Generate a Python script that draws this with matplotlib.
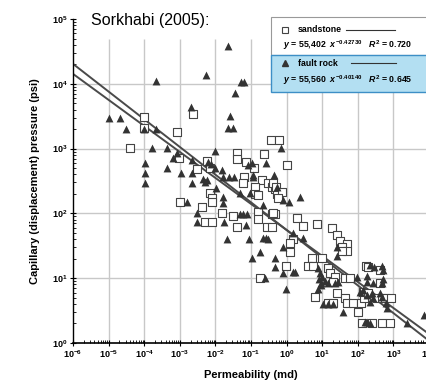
import matplotlib.pyplot as plt
import numpy as np
from matplotlib.patches import Rectangle
from matplotlib.lines import Line2D
from matplotlib.ticker import LogLocator, FuncFormatter, NullFormatter

plt.rcParams['font.family'] = ['Liberation Sans', 'DejaVu Sans']
plt.rcParams['mathtext.fontset'] = 'custom'
plt.rcParams['mathtext.rm'] = 'Liberation Sans:bold'
plt.rcParams['mathtext.it'] = 'Liberation Sans:italic:bold'
plt.rcParams['mathtext.bf'] = 'Liberation Sans:bold'

# valores (log10 de permeabilidad en md y de presion en psi)
sand_log_perm = [-4.40, -4.01, -4.01, -3.08, -2.63, -3.02, -2.24, -2.52, -2.15, -1.39,
                 -1.39, -1.14, -0.92, -0.63, -0.44, -0.21, -1.20, -1.22, -0.69, -0.52,
                 -0.41, -0.89, -0.89, -0.80, -2.15, -2.10, -0.33, -0.27, -2.99, -2.38,
                 -2.10, -1.81, -1.51, -2.29, -2.10, -1.39, -0.80, -0.80, -0.55, -0.41,
                 -0.41, -0.33, -0.75, 0.01, -0.38, -0.30, -0.13, -0.24, -0.38, 0.29,
                 0.46, 0.85, 1.28, 1.42, 1.50, 1.70, 0.18, 0.10, 0.10, -0.02,
                 0.71, 0.60, 0.74, 0.99, 1.16, 1.22, 1.36, 1.30, 1.56, 1.70,
                 1.56, 2.23, 2.29, 2.62, 2.62, 1.64, 1.78, 1.42, 0.80, 1.16,
                 1.30, 1.64, 1.70, 1.87, 2.01, 2.09, 2.17, 2.15, 2.29, 2.54,
                 2.68, 2.76, 2.93, 2.12, 2.68, 2.90, 2.40]
sand_log_pc = [3.01, 3.49, 3.32, 3.26, 3.53, 2.85, 2.81, 2.69, 2.70, 2.93,
               2.84, 2.79, 2.70, 2.92, 3.13, 3.13, 2.56, 2.47, 2.52, 2.47,
               2.41, 2.41, 2.30, 2.28, 2.31, 2.24, 2.38, 2.30, 2.18, 2.10,
               2.18, 2.01, 1.96, 1.87, 1.87, 1.79, 2.02, 1.91, 1.79, 1.79,
               1.99, 1.99, 1.00, 2.75, 2.47, 2.41, 2.33, 2.24, 2.01, 1.93,
               1.81, 1.84, 1.77, 1.67, 1.57, 1.53, 1.60, 1.54, 1.40, 1.19,
               1.31, 1.19, 1.19, 1.31, 1.16, 1.08, 1.02, 0.94, 1.48, 1.42,
               1.42, 1.19, 1.17, 1.13, 0.93, 1.00, 1.00, 0.77, 0.71, 0.62,
               0.62, 0.69, 0.62, 0.62, 0.48, 0.62, 0.69, 0.79, 0.77, 0.69,
               0.69, 0.69, 0.69, 0.31, 0.31, 0.31, 0.31]

fault_log_perm = [-4.99, -4.68, -4.51, -4.01, -3.67, -3.67, -3.78, -3.36, -3.36, -3.98,
                  -3.98, -3.98, -3.19, -3.08, -2.97, -2.69, -2.66, -2.66, -2.66, -2.35,
                  -2.24, -2.29, -2.26, -2.21, -2.12, -2.01, -2.01, -1.81, -1.98, -1.79,
                  -1.62, -1.48, -1.79, -1.65, -1.45, -1.59, -1.65, -1.51, -1.28, -1.20,
                  -1.31, -1.03, -1.08, -0.97, -0.94, -0.94, -0.58, -0.35, -0.27, -0.16,
                  -2.80, -1.79, -2.52, -2.52, -1.76, -1.31, -1.22, -1.11, -1.14, -1.67,
                  -1.06, -0.66, -0.58, -0.52, -0.66, -0.75, -0.97, -0.33, -0.33, -0.61,
                  0.38, 0.07, -0.10, 0.18, 0.46, -0.10, 1.42, 1.42, -0.10,
                  0.18, 0.24, -0.02, 0.88, 0.94, 0.99, 0.91, 0.97, 1.08, 1.16,
                  0.88, 0.97, 1.36, 1.44, 1.02, 1.16, 1.30, 1.58, 1.98, 2.06,
                  2.15, 2.34, 2.46, 2.68, 2.71, 2.26, 2.26, 2.43, 2.71, 2.68,
                  2.26, 2.34, 2.40, 2.43, 2.62, 2.68, 2.79, 2.82, 2.20, 2.26,
                  2.34, 3.38, 3.86]
fault_log_pc = [3.47, 3.47, 3.30, 3.30, 4.04, 3.30, 3.01, 3.01, 2.70, 2.78,
                2.62, 2.47, 2.85, 2.93, 2.62, 3.64, 2.82, 2.62, 2.47, 2.53,
                2.52, 2.48, 4.14, 2.79, 2.76, 2.96, 2.70, 2.67, 2.39, 2.56,
                2.56, 2.56, 2.25, 4.58, 3.86, 3.50, 3.32, 3.32, 4.03, 4.03,
                2.31, 2.31, 2.75, 2.78, 2.59, 2.56, 2.78, 2.59, 2.41, 3.01,
                2.18, 2.16, 2.01, 1.87, 1.87, 1.99, 1.99, 1.99, 1.82, 1.60,
                1.60, 1.62, 1.62, 1.60, 2.13, 1.40, 1.31, 1.31, 1.17, 1.00,
                2.25, 2.18, 2.21, 1.70, 1.62, 1.48, 1.48, 1.34, 1.08,
                1.10, 1.10, 0.83, 1.16, 1.08, 1.02, 0.99, 0.93, 0.96, 0.93,
                0.83, 0.90, 0.93, 0.94, 0.60, 0.60, 0.60, 0.48, 1.02, 0.79,
                0.82, 1.20, 1.17, 1.19, 1.13, 1.03, 0.94, 0.93, 0.99, 0.93,
                0.74, 0.63, 0.77, 0.69, 0.77, 0.71, 0.62, 0.54, 0.32, 0.32,
                0.31, 0.31, 0.43]

# ajustes potenciales de la leyenda
sand_a, sand_b = 55.402, -0.42730
fault_a, fault_b = 55.560, -0.40140

W, H = 426, 382
fig = plt.figure(figsize=(W / 100, H / 100), dpi=100)
ax = fig.add_axes([73 / W, 1 - 343 / H, (429 - 73) / W, 324 / H])

def fx(px):
    return px / W

def fy(py):
    return 1 - py / H

ax.set_xscale('log')
ax.set_yscale('log')
ax.set_xlim(1e-6, 1e4)
ax.set_ylim(1, 1e5)

# rejilla
decadas_x = [10.0 ** d for d in range(-5, 4)]
decadas_y = [10.0 ** d for d in range(1, 5)]
ax.vlines(decadas_x, 1, 5e4, color='#c8c8c8', lw=1, zorder=0)
ax.hlines(decadas_y, 1e-6, 1e4, color='#c8c8c8', lw=1, zorder=0)

# rectas de ajuste
xx = np.logspace(-6, 4, 100)
ax.plot(xx, sand_a * xx ** sand_b, color='#4a4a4a', lw=1.4, zorder=2)
ax.plot(xx, fault_a * xx ** fault_b, color='#4a4a4a', lw=1.4, zorder=2)

# datos
ax.scatter(10 ** np.array(sand_log_perm), 10 ** np.array(sand_log_pc), marker='s', s=26,
           facecolor='white', edgecolor='#444444', linewidth=0.8, zorder=3)
ax.scatter(10 ** np.array(fault_log_perm), 10 ** np.array(fault_log_pc), marker='^', s=32,
           color='#333333', linewidth=0, zorder=4)

# ejes
for s in ['top', 'right']:
    ax.spines[s].set_visible(False)
ax.spines['left'].set_linewidth(1.0)
ax.spines['bottom'].set_linewidth(1.2)
fmt = FuncFormatter(lambda v, p: r'$\mathrm{10^{%d}}$' % round(np.log10(v)))
for axis in [ax.xaxis, ax.yaxis]:
    axis.set_major_locator(LogLocator(base=10, numticks=20))
    axis.set_minor_locator(LogLocator(base=10, subs=np.arange(2, 10), numticks=20))
    axis.set_major_formatter(fmt)
    axis.set_minor_formatter(NullFormatter())
ax.tick_params(which='major', direction='inout', length=5, width=0.8, labelsize=6.5, pad=1.5)
ax.tick_params(which='minor', direction='in', length=2.5, width=0.6)

fig.text(fx(251), fy(375), 'Permeability (md)', fontsize=8, fontweight='bold',
         ha='center', va='center')
fig.text(fx(35), fy(181), 'Capillary (displacement) pressure (psi)', fontsize=8,
         fontweight='bold', rotation=90, ha='center', va='center')
fig.text(fx(91), fy(20), 'Sorkhabi (2005):', fontsize=11.5, ha='left', va='center')

# leyenda dibujada a mano
fig.add_artist(Rectangle((fx(271), fy(55)), fx(160), 38 / H, transform=fig.transFigure,
                         facecolor='white', edgecolor='#999999', lw=0.8, zorder=10))
fig.add_artist(Rectangle((fx(271), fy(92)), fx(160), 37 / H, transform=fig.transFigure,
                         facecolor='#b3dff2', edgecolor='#3d8fc6', lw=1.0, zorder=10))
fig.add_artist(Line2D([fx(285)], [fy(30)], marker='s', ms=4, mfc='white', mec='#444444',
                      mew=0.8, transform=fig.transFigure, zorder=11))
fig.add_artist(Line2D([fx(285)], [fy(63)], marker='^', ms=4.5, color='#333333', lw=0,
                      transform=fig.transFigure, zorder=11))
fig.add_artist(Line2D([fx(346), fx(395)], [fy(30), fy(30)], color='#333333', lw=0.8,
                      transform=fig.transFigure, zorder=11))
fig.add_artist(Line2D([fx(351), fx(396)], [fy(63), fy(63)], color='#333333', lw=0.8,
                      transform=fig.transFigure, zorder=11))
fig.text(fx(298), fy(30), 'sandstone', fontsize=6.3, fontweight='bold', va='center', zorder=11)
fig.text(fx(298), fy(63), 'fault rock', fontsize=6.3, fontweight='bold', va='center', zorder=11)
fig.text(fx(283), fy(45), r'$y$ = 55,402  $x^{-0.42730}$   $R^2$ = 0.720', fontsize=6.3,
         fontweight='bold', va='center', zorder=11)
fig.text(fx(283), fy(80), r'$y$ = 55,560  $x^{-0.40140}$   $R^2$ = 0.645', fontsize=6.3,
         fontweight='bold', va='center', zorder=11)

fig.savefig('out.png', dpi=100)
